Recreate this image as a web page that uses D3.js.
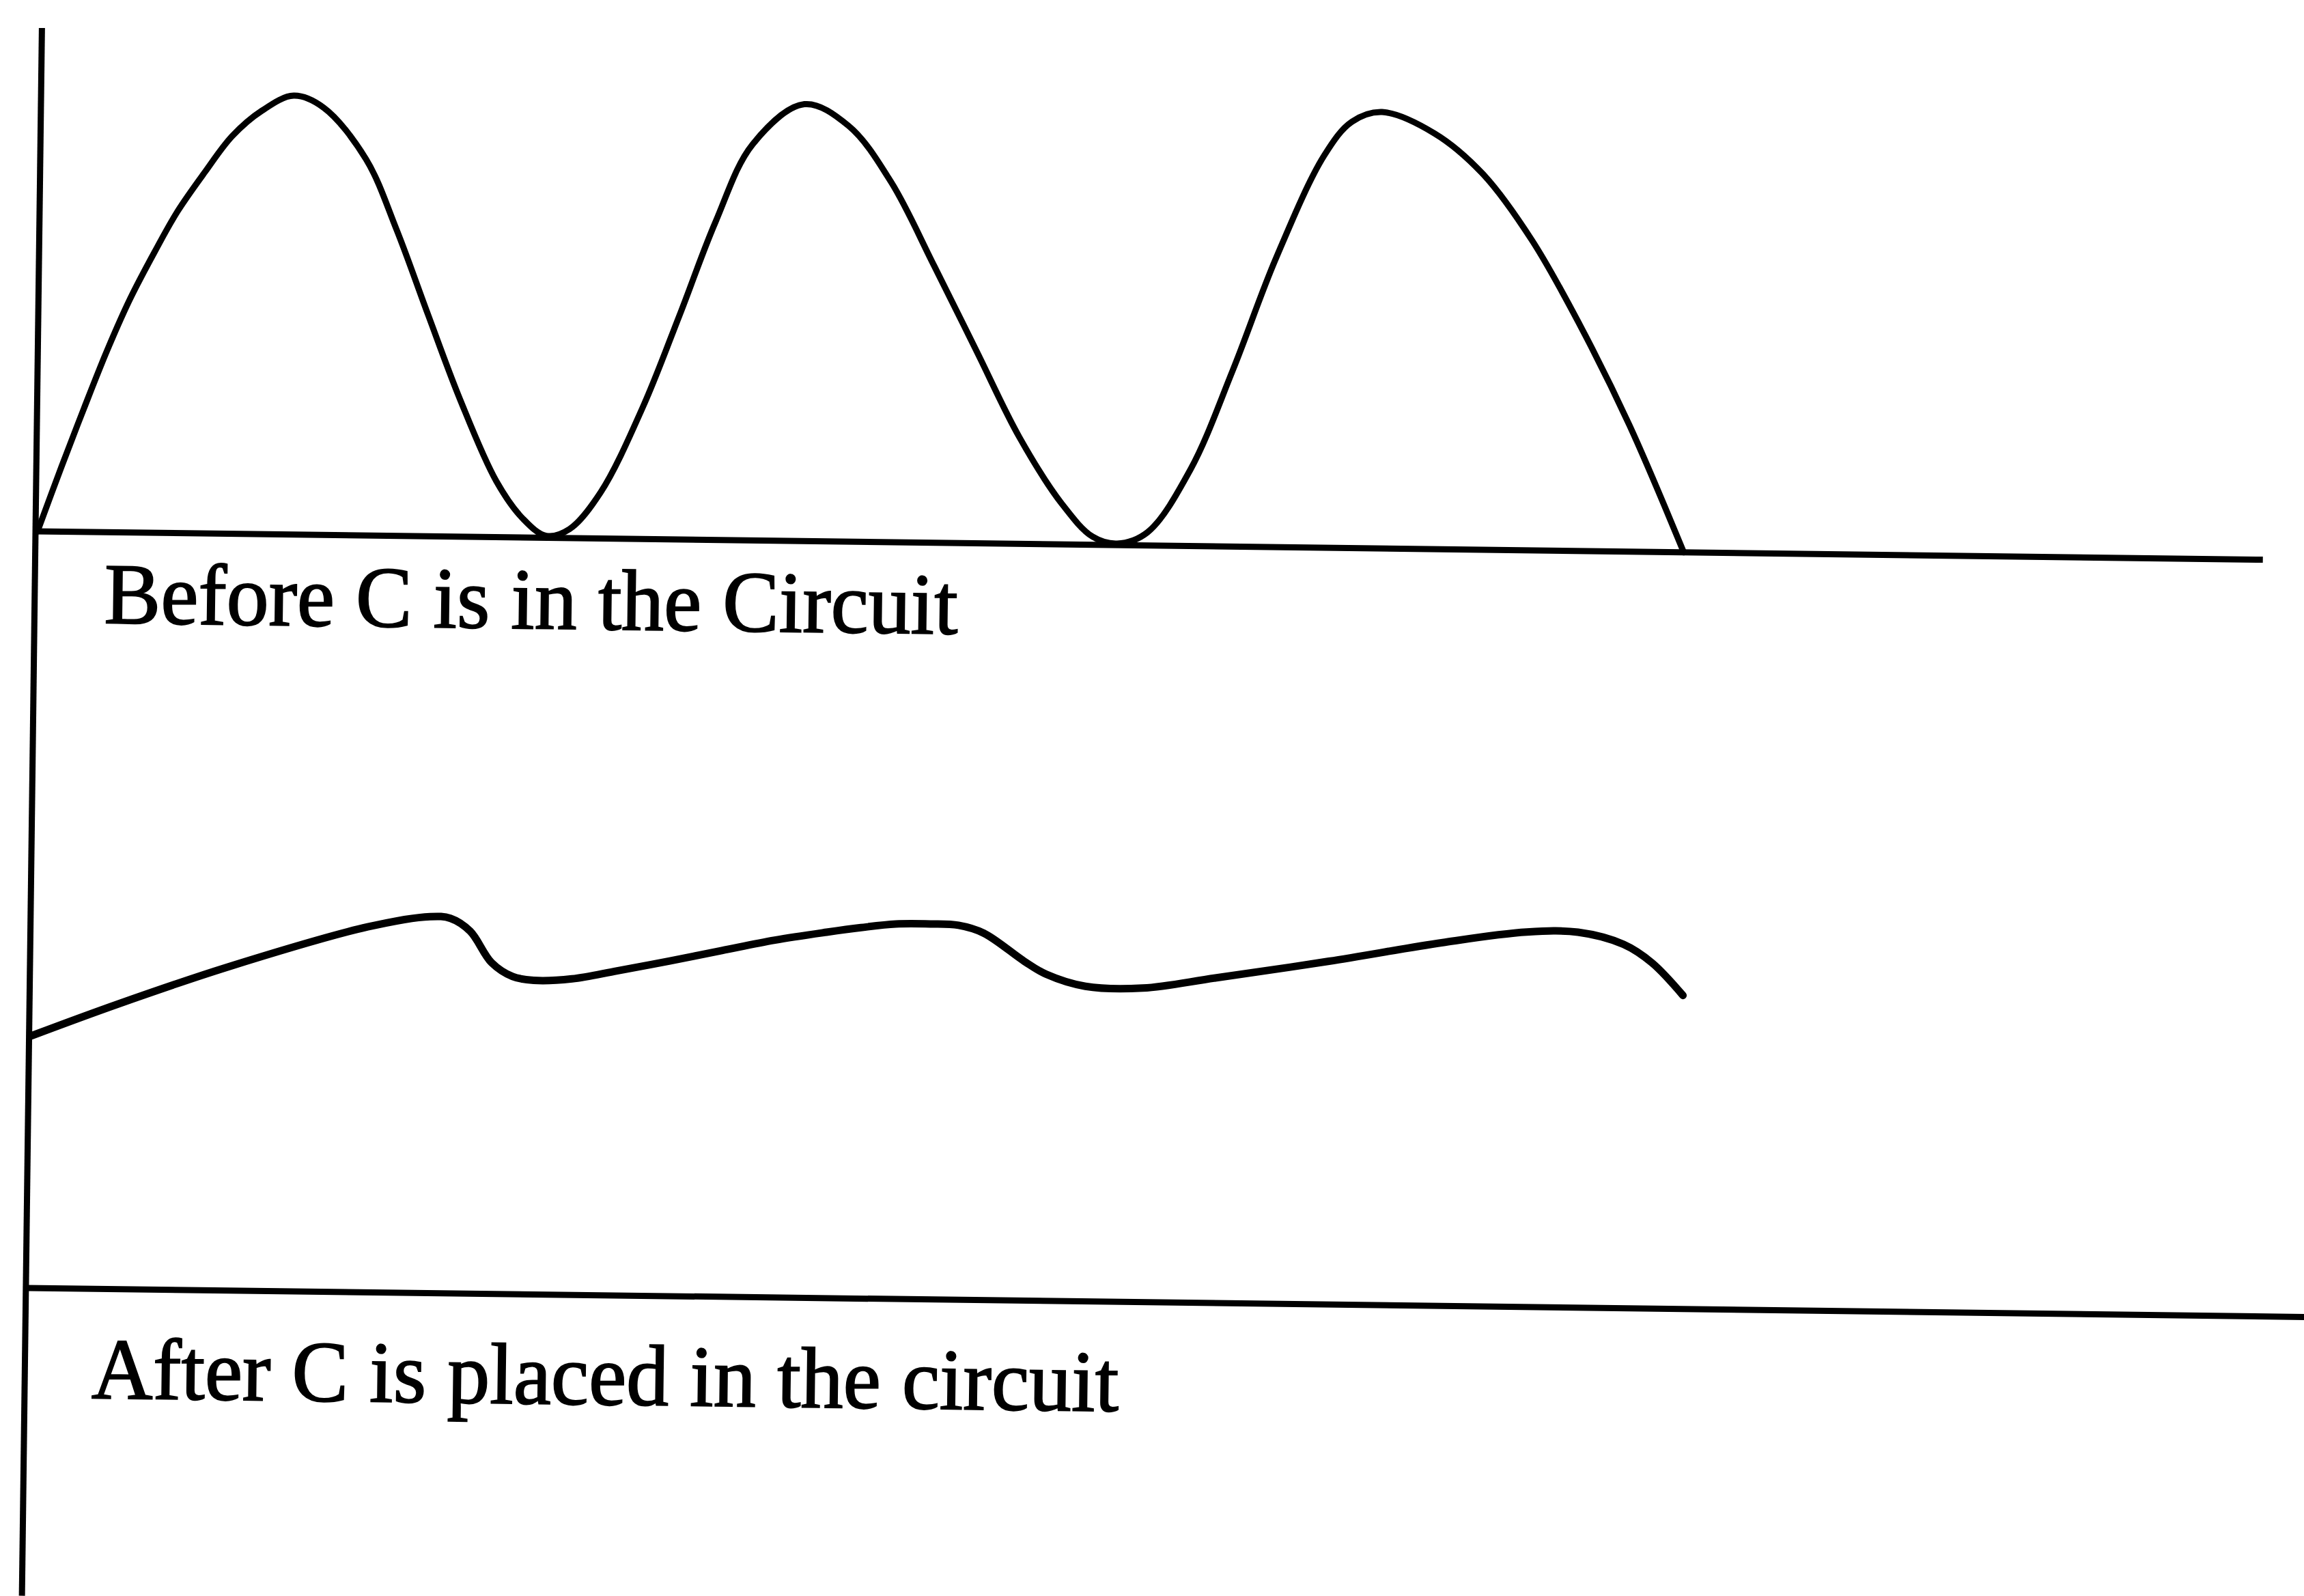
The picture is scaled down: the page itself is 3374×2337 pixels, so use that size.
<!DOCTYPE html>
<html>
<head>
<meta charset="utf-8">
<script src="https://cdn.jsdelivr.net/npm/d3@7"></script>
<style>
  html, body { margin: 0; padding: 0; background: #fff; }
  svg { display: block; }
</style>
</head>
<body>
<div id="chart"></div>
<script>
// ----------------------- rectifier output, before / after the capacitor

// time along the axis, in % of the top axis length
var beforeTime = [0.09, 1.13, 2.11, 3.11, 4.10, 5.21, 6.19, 7.40, 8.60, 9.91,
    11.34, 12.69, 14.62, 16.03, 17.50, 18.98, 20.66, 21.86, 22.93, 23.97,
    25.35, 27.19, 28.79, 30.35, 31.97, 34.27, 36.27, 38.20, 40.19, 42.15,
    44.11, 46.05, 47.46, 48.56, 49.91, 51.81, 53.65, 55.52, 57.63, 58.86,
    60.21, 62.57, 64.78, 67.01, 69.22, 71.49, 74.00];
// voltage, in % of the vertical axis height
var beforeVolt = [0, 12.9, 24.6, 36.1, 46.3, 56.0, 63.9, 71.8, 79.0, 84.1,
    87.2, 84.9, 74.8, 60.9, 44.0, 27.3, 11.1, 3.8, 0.4, 1.8,
    9.2, 26.2, 44.6, 63.2, 78.7, 86.8, 82.6, 71.6, 55.0, 38.1,
    21.2, 8.1, 1.6, 0.3, 2.6, 15.2, 35.0, 57.3, 77.9, 84.7,
    86.7, 82.6, 74.6, 61.6, 44.8, 25.1, 0];

var afterTime = [0.10, 3.95, 8.83, 15.14, 17.93, 18.85, 19.74, 20.72, 21.67, 22.62,
    24.34, 26.36, 28.72, 31.05, 33.42, 35.74, 37.28, 38.84, 40.40, 41.66,
    42.80, 44.64, 45.62, 47.39, 49.97, 53.22, 58.31, 63.40, 67.17, 69.47,
    71.52, 72.81, 74.22];
var afterVolt = [50.1, 56.6, 64.2, 72.6, 74.8, 74.5, 72.0, 65.8, 63.1, 62.4,
    62.8, 64.5, 66.6, 68.8, 71.0, 72.7, 73.7, 74.5, 74.6, 74.4,
    72.9, 67.4, 64.9, 62.6, 62.4, 64.6, 68.2, 72.2, 74.5, 74.6,
    72.3, 68.7, 62.3];

var panelLabels = ["Before C is in the Circuit", "After C is placed in the circuit"];
var axisTimeExtent = [[-0.06, 100], [0.06, 102.3]];
var axisVoltExtent = [100, -211.5];

var width = 3374;
var height = 2337;
var axisLen = 3262;    // px of 100 % time
var axisHeight = 737;  // px of 100 % voltage
var panelGap = 1108;   // second base line below the first
var tilt = 0.73;       // the scan is a little rotated

var svg = d3.select("#chart").append("svg")
    .attr("width", width)
    .attr("height", height);

var x = d3.scaleLinear().domain([0, 100]).range([0, axisLen]);
var y = d3.scaleLinear().domain([0, 100]).range([0, -axisHeight]);

var root = svg.append("g")
    .attr("transform", "translate(52,778) rotate(" + tilt + ")");

// vertical axis shared by both panels
root.append("line")
    .attr("x1", x(0)).attr("x2", x(0))
    .attr("y1", y(axisVoltExtent[0])).attr("y2", y(axisVoltExtent[1]))
    .attr("stroke", "#000")
    .attr("stroke-width", 9);

var panels = [
    { time: beforeTime, volt: beforeVolt, width: 9, labelDx: 102, labelDy: 133, labelLen: 1250 },
    { time: afterTime, volt: afterVolt, width: 11, labelDx: 98, labelDy: 160, labelLen: 1504 }
];

// smooth curve that still goes through the read points
var line = d3.line()
    .x(function(d) { return x(d[0]); })
    .y(function(d) { return y(d[1]); })
    .curve(d3.curveCatmullRom.alpha(0.5));

panels.forEach(function(p, i) {
    var g = root.append("g")
        .attr("transform", "translate(0," + (panelGap * i) + ")");

    // base line
    g.append("line")
        .attr("x1", x(axisTimeExtent[i][0])).attr("x2", x(axisTimeExtent[i][1]))
        .attr("y1", y(0)).attr("y2", y(0))
        .attr("stroke", "#000")
        .attr("stroke-width", 9);

    var pts = p.time.map(function(t, j) { return [t, p.volt[j]]; });
    g.append("path")
        .datum(pts)
        .attr("d", line)
        .attr("fill", "none")
        .attr("stroke", "#000")
        .attr("stroke-width", p.width)
        .attr("stroke-linejoin", "round")
        .attr("stroke-linecap", "round");

    // scanned print is a bit heavier than the font, hence the thin stroke
    g.append("text")
        .attr("x", p.labelDx)
        .attr("y", y(0) + p.labelDy)
        .attr("font-family", "'Liberation Serif', 'Times New Roman', serif")
        .attr("font-size", 127)
        .attr("textLength", p.labelLen)
        .attr("lengthAdjust", "spacingAndGlyphs")
        .attr("fill", "#000")
        .attr("stroke", "#000")
        .attr("stroke-width", 2)
        .text(panelLabels[i]);
});
</script>
</body>
</html>
